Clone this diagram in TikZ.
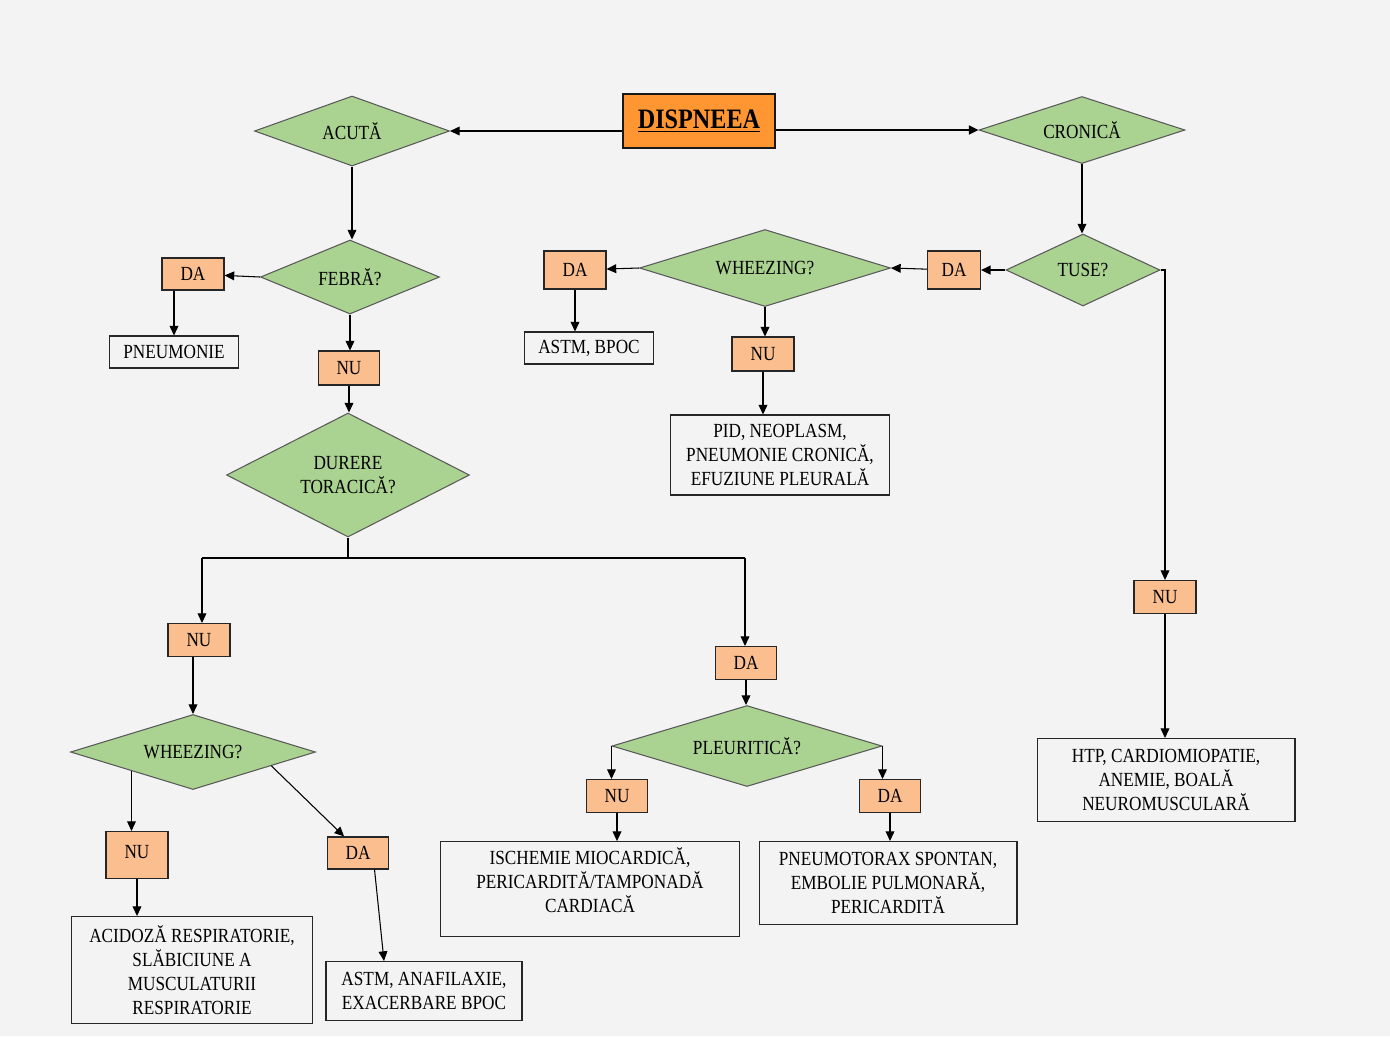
\documentclass[tikz,border=0pt]{standalone}
\usepackage{fontspec}
\setmainfont{Liberation Serif}[FakeStretch=0.86]
\usetikzlibrary{shapes.geometric,arrows.meta}

\definecolor{paper}{RGB}{243,243,243}
\definecolor{leafgreen}{RGB}{170,210,145}
\definecolor{peach}{RGB}{250,190,143}
\definecolor{titleorange}{RGB}{255,150,50}

\begin{document}
\begin{tikzpicture}[
	x=0.02cm,
	y=-0.02cm,
	>={Triangle[length=5.5pt,width=5pt]},
	line width=0.6pt,
	font=\fontsize{11.4}{13.7}\selectfont,
	decision/.style={
		diamond,
		aspect=2.8,
		draw=black!65,
		fill=leafgreen,
		inner sep=0pt,
		align=center},
	answer/.style={
		rectangle,
		draw=black!85,
		fill=peach,
		minimum width=1.24cm,
		minimum height=0.66cm},
	outcome/.style={
		rectangle,
		draw=black!85,
		align=center},
	titlebox/.style={
		rectangle,
		draw=black!90,
		line width=1pt,
		fill=titleorange,
		minimum width=3.04cm,
		minimum height=1.08cm,
		font=\fontsize{16}{19}\bfseries\selectfont},
	heavy/.style={line width=1.2pt}]

   \useasboundingbox[fill=paper] (0,0) rectangle (1390,1036);

   % top
   \node[titlebox] (dispneea) at (699,121) {\underline{DISPNEEA}};
   \node[decision, minimum width=3.9cm, minimum height=1.4cm] (acuta) at (352,131) {ACUTĂ};
   \node[decision, minimum width=4.12cm, minimum height=1.34cm] (cronica) at (1082,130) {CRONICĂ};

   % acute branch
   \node[decision, minimum width=3.58cm, minimum height=1.48cm] (febra) at (350,277) {FEBRĂ?};
   \node[answer, minimum height=0.64cm] (daFebra) at (193,274) {DA};
   \node[outcome, minimum width=2.58cm, minimum height=0.64cm] (pneumonie) at (174,352) {PNEUMONIE};
   \node[answer, minimum width=1.22cm, minimum height=0.68cm] (nuFebra) at (349,368) {NU};
   \node[decision, aspect=2, minimum width=4.86cm, minimum height=2.48cm] (durere) at (348,475) {DURERE\\TORACICĂ?};

   \node[answer] (nuDurere) at (199,640) {NU};
   \node[answer, minimum width=1.22cm] (daDurere) at (746,663) {DA};

   \node[decision, minimum width=4.9cm, minimum height=1.5cm] (wheezAcut) at (193,752) {WHEEZING?};
   \node[answer, minimum height=0.94cm] (nuWheez) at (137,855) {\raisebox{0.14cm}{NU}};
   \node[answer, minimum width=1.22cm, minimum height=0.64cm] (daWheez) at (358,853) {DA};
   \node[outcome, minimum width=4.82cm, minimum height=2.14cm] (acidoza) at (192,970)
      {ACIDOZĂ RESPIRATORIE,\\SLĂBICIUNE A\\MUSCULATURII\\RESPIRATORIE};
   \node[outcome, minimum width=3.92cm, minimum height=1.18cm] (astmAna) at (424,991)
      {ASTM, ANAFILAXIE,\\EXACERBARE BPOC};

   \node[decision, minimum width=5.4cm, minimum height=1.62cm] (pleuritica) at (747,746) {PLEURITICĂ?};
   \node[answer, minimum width=1.22cm] (nuPleur) at (617,796) {NU};
   \node[answer, minimum width=1.22cm] (daPleur) at (890,796) {DA};
   \node[outcome, text depth=0.36cm, minimum width=5.98cm, minimum height=1.88cm] (ischemie) at (590,889)
      {ISCHEMIE MIOCARDICĂ,\\PERICARDITĂ/TAMPONADĂ\\CARDIACĂ};
   \node[outcome, minimum width=5.16cm, minimum height=1.66cm] (pneumotorax) at (888,883)
      {PNEUMOTORAX SPONTAN,\\EMBOLIE PULMONARĂ,\\PERICARDITĂ};

   % chronic branch
   \node[decision, aspect=2.2, minimum width=3.08cm, minimum height=1.44cm] (tuse) at (1083,270) {TUSE?};
   \node[answer, minimum width=1.06cm, minimum height=0.76cm] (daTuse) at (954,270) {DA};
   \node[decision, minimum width=5.02cm, minimum height=1.54cm] (wheezCron) at (765,268) {WHEEZING?};
   \node[answer, minimum height=0.76cm] (daWheezCron) at (575,270) {DA};
   \node[outcome, minimum width=2.58cm, minimum height=0.64cm] (astmBpoc) at (589,348) {ASTM, BPOC};
   \node[answer, minimum height=0.68cm] (nuWheezCron) at (763,354) {NU};
   \node[outcome, minimum width=4.38cm, minimum height=1.6cm] (pid) at (780,455)
      {PID, NEOPLASM,\\PNEUMONIE CRONICĂ,\\EFUZIUNE PLEURALĂ};
   \node[answer] (nuTuse) at (1165,597) {NU};
   \node[outcome, minimum width=5.16cm, minimum height=1.66cm] (htp) at (1166,780)
      {HTP, CARDIOMIOPATIE,\\ANEMIE, BOALĂ\\NEUROMUSCULARĂ};

   \coordinate (split) at (348,558);
   \coordinate (splitL) at (202,558);
   \coordinate (splitR) at (745,558);

   \path[->]
    (dispneea.west |- acuta.east) edge (acuta.east)
    (dispneea.east |- cronica.west) edge[heavy] (cronica.west)
    (acuta.south) edge (acuta.south |- febra.north)
    (febra.west) edge (daFebra)
    (daFebra.south -| pneumonie.north) edge (pneumonie.north)
    (febra.south) edge (febra.south |- nuFebra.north)
    (nuFebra.south) edge (nuFebra.south |- durere.north)
    (splitL) edge (splitL |- nuDurere.north)
    (splitR) edge (splitR |- daDurere.north)
    (nuDurere.south -| wheezAcut.north) edge (wheezAcut.north)
    (wheezAcut.south west) edge (wheezAcut.south west |- nuWheez.north)
    (wheezAcut.-10) edge (daWheez.130)
    (nuWheez.south) edge (nuWheez.south |- acidoza.north)
    (daWheez.-45) edge ([xshift=-0.8cm]astmAna.north)
    (daDurere.south) edge (daDurere.south |- pleuritica.north)
    (pleuritica.west) edge (pleuritica.west |- nuPleur.north)
    (pleuritica.east) edge (pleuritica.east |- daPleur.north)
    (nuPleur.south) edge (nuPleur.south |- ischemie.north)
    (daPleur.south) edge (daPleur.south |- pneumotorax.north)
    (cronica.south) edge (cronica.south |- tuse.north)
    (tuse.west) edge[heavy] (daTuse)
    (daTuse) edge (wheezCron.east)
    (wheezCron.west) edge (daWheezCron)
    (daWheezCron.south) edge (daWheezCron.south |- astmBpoc.north)
    (wheezCron.south) edge (wheezCron.south |- nuWheezCron.north)
    (nuWheezCron.south) edge (nuWheezCron.south |- pid.north)
    (nuTuse.south) edge (nuTuse.south |- htp.north);

   \draw (durere.south) -- (split);
   \draw[heavy] (splitL) -- (splitR);
   \draw[->] (tuse.east) -| (nuTuse.north);
\end{tikzpicture}
\end{document}
